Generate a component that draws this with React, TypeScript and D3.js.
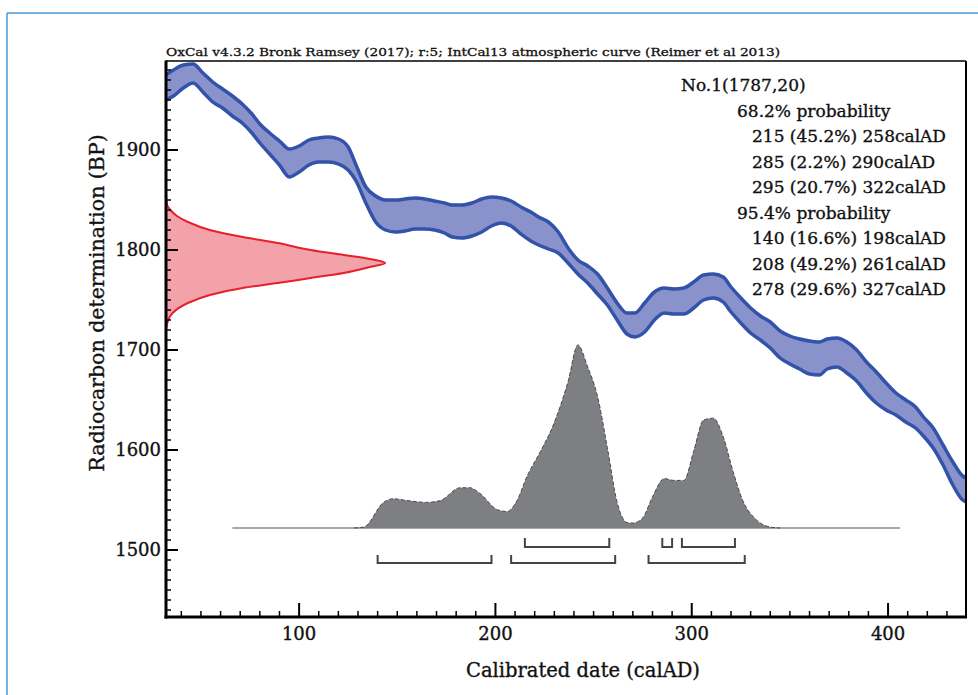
import React, { useEffect, useRef } from 'react';
import * as d3 from 'd3';

// IntCal13 band (upper / lower edge of the 1-sigma envelope)
const curveYears = [32, 36, 41, 46, 51, 56, 61, 66, 71, 76, 80, 85, 90, 95, 100, 105, 110, 115, 120, 125, 129, 134, 139, 144, 149, 154, 159, 164, 169, 174, 178, 183, 188, 193, 198, 203, 208, 213, 218, 222, 227, 232, 237, 242, 247, 252, 257, 262, 267, 271, 276, 281, 286, 291, 296, 301, 306, 311, 316, 320, 325, 330, 335, 340, 345, 350, 355, 360, 365, 369, 374, 379, 384, 389, 394, 399, 404, 409, 414, 418, 423, 428, 433, 438, 440];
const curveUpperBP = [1975, 1980, 1985, 1986, 1977, 1968, 1961, 1954, 1946, 1936, 1926, 1917, 1909, 1901, 1904, 1910, 1912, 1913, 1911, 1903, 1885, 1863, 1854, 1850, 1850, 1851, 1852, 1851, 1849, 1847, 1845, 1845, 1847, 1851, 1853, 1852, 1849, 1843, 1838, 1833, 1828, 1818, 1802, 1790, 1784, 1776, 1762, 1747, 1737, 1737, 1747, 1758, 1762, 1761, 1762, 1768, 1775, 1776, 1773, 1763, 1752, 1742, 1734, 1728, 1719, 1714, 1711, 1709, 1708, 1711, 1712, 1708, 1700, 1688, 1678, 1667, 1657, 1650, 1643, 1633, 1622, 1605, 1588, 1574, 1572];
const curveLowerBP = [1950, 1954, 1962, 1967, 1958, 1948, 1942, 1934, 1927, 1917, 1907, 1896, 1885, 1873, 1878, 1885, 1888, 1888, 1886, 1880, 1869, 1847, 1828, 1820, 1818, 1819, 1821, 1821, 1820, 1817, 1813, 1812, 1814, 1818, 1824, 1827, 1824, 1816, 1809, 1805, 1801, 1797, 1787, 1776, 1767, 1756, 1745, 1730, 1716, 1713, 1718, 1730, 1737, 1736, 1736, 1742, 1750, 1752, 1748, 1738, 1727, 1717, 1710, 1702, 1692, 1686, 1681, 1676, 1675, 1681, 1683, 1677, 1669, 1657, 1647, 1640, 1635, 1628, 1622, 1614, 1602, 1585, 1565, 1550, 1548];

// measured radiocarbon date 1787 +/- 20 (red, on the y axis)
const measBP = [1855, 1845, 1840, 1834, 1828, 1820, 1813, 1807, 1800, 1795, 1791, 1787, 1783, 1777, 1772, 1767, 1762, 1755, 1747, 1737, 1730, 1720];
const measDens = [0, 0.005, 0.02, 0.05, 0.1, 0.2, 0.35, 0.51, 0.66, 0.81, 0.93, 1, 0.93, 0.81, 0.66, 0.51, 0.35, 0.2, 0.1, 0.03, 0.01, 0];

// calibrated distribution (grey)
const calYears = [128, 133, 143, 148, 155, 165, 172, 182, 187, 192, 201, 206, 211, 216, 223, 229, 237, 242, 247, 252, 257, 262, 267, 270, 275, 280, 286, 291, 296, 301, 306, 311, 316, 321, 326, 333, 340, 345];
const calProb = [0, 0.005, 0.14, 0.16, 0.15, 0.14, 0.15, 0.22, 0.22, 0.19, 0.1, 0.09, 0.15, 0.28, 0.42, 0.55, 0.8, 1, 0.88, 0.72, 0.44, 0.14, 0.03, 0.027, 0.055, 0.17, 0.27, 0.26, 0.26, 0.42, 0.59, 0.6, 0.5, 0.31, 0.15, 0.044, 0.005, 0];
const calSpan = [66, 406];

const ranges68 = [[215, 258], [285, 290], [295, 322]];
const ranges95 = [[140, 198], [208, 261], [278, 327]];

const xTicks = [100, 200, 300, 400];
const yTicks = [1500, 1600, 1700, 1800, 1900];

const titleText = 'OxCal v4.3.2 Bronk Ramsey (2017); r:5; IntCal13 atmospheric curve (Reimer et al 2013)';
const infoHead = 'No.1(1787,20)';
const infoLines = [
  { text: '68.2% probability', level: 1 },
  { text: '215 (45.2%) 258calAD', level: 2 },
  { text: '285 (2.2%) 290calAD', level: 2 },
  { text: '295 (20.7%) 322calAD', level: 2 },
  { text: '95.4% probability', level: 1 },
  { text: '140 (16.6%) 198calAD', level: 2 },
  { text: '208 (49.2%) 261calAD', level: 2 },
  { text: '278 (29.6%) 327calAD', level: 2 },
];

const W = 978;
const H = 695;
const FONT = '"DejaVu Serif", serif';

const App = () => {
  const svgRef = useRef<SVGSVGElement>(null);

  useEffect(() => {
    const svg = d3.select(svgRef.current);
    svg.selectAll('*').remove();

    const left = 166, right = 966, top = 61, bottom = 617;

    const x = d3.scaleLinear().domain([32.2, 439.7]).range([left, right]);
    const y = d3.scaleLinear().domain([1433, 1989]).range([bottom, top]);
    const dens = d3.scaleLinear().domain([0, 1]).range([left, left + (right - left) * 0.274]);
    const prob = d3.scaleLinear().domain([0, 1]).range([y(1522), y(1705)]);

    // heavier serif look, like the original print
    const label = (sel: any, size: number) =>
      sel.attr('font-family', FONT).attr('font-size', size)
        .attr('fill', '#111').attr('stroke', '#111').attr('stroke-width', 0.35);

    // outer frame
    svg.append('line').attr('x1', 7).attr('x2', W).attr('y1', 13).attr('y2', 13)
      .attr('stroke', '#4a98d8').attr('stroke-width', 1.5);
    svg.append('line').attr('x1', 7).attr('x2', 7).attr('y1', 13).attr('y2', H)
      .attr('stroke', '#4a98d8').attr('stroke-width', 1.5);

    svg.append('defs').append('clipPath').attr('id', 'plotclip')
      .append('rect').attr('x', left).attr('y', top).attr('width', right - left).attr('height', bottom - top);

    const g = svg.append('g').attr('clip-path', 'url(#plotclip)');

    // calibration band
    const idx = d3.range(curveYears.length);
    const band = d3.area<number>()
      .x(i => x(curveYears[i]))
      .y0(i => y(curveLowerBP[i]))
      .y1(i => y(curveUpperBP[i]))
      .curve(d3.curveMonotoneX);
    g.append('path').attr('d', band(idx)).attr('fill', '#8a92cc');
    [curveUpperBP, curveLowerBP].forEach(edge => {
      const line = d3.line<number>().x(i => x(curveYears[i])).y(i => y(edge[i])).curve(d3.curveMonotoneX);
      g.append('path').attr('d', line(idx)).attr('fill', 'none')
        .attr('stroke', '#3352aa').attr('stroke-width', 3.5).attr('stroke-linejoin', 'round');
    });

    // measured date distribution
    const midx = d3.range(measBP.length);
    const meas = d3.area<number>()
      .y(i => y(measBP[i]))
      .x0(left)
      .x1(i => dens(measDens[i]))
      .curve(d3.curveMonotoneY);
    g.append('path').attr('d', meas(midx)).attr('fill', '#f3a2aa');
    g.append('path')
      .attr('d', d3.line<number>().y(i => y(measBP[i])).x(i => dens(measDens[i])).curve(d3.curveMonotoneY)(midx))
      .attr('fill', 'none').attr('stroke', '#e6202c').attr('stroke-width', 2);

    // calibrated distribution
    g.append('line')
      .attr('x1', x(calSpan[0])).attr('x2', x(calSpan[1]))
      .attr('y1', prob(0)).attr('y2', prob(0))
      .attr('stroke', '#8a8a8a').attr('stroke-width', 1.5);
    const cidx = d3.range(calYears.length);
    const cal = d3.area<number>()
      .x(i => x(calYears[i]))
      .y0(prob(0))
      .y1(i => prob(calProb[i]))
      .curve(d3.curveMonotoneX);
    g.append('path').attr('d', cal(cidx)).attr('fill', '#7e7f82');
    g.append('path')
      .attr('d', d3.line<number>().x(i => x(calYears[i])).y(i => prob(calProb[i])).curve(d3.curveMonotoneX)(cidx))
      .attr('fill', 'none').attr('stroke', '#4a4a4a').attr('stroke-width', 1).attr('stroke-dasharray', '4 2');

    // range brackets
    const bracket = (rs: number[][], tipBP: number, lineBP: number) => {
      rs.forEach(([a, b]) => {
        g.append('path')
          .attr('d', `M${x(a)},${y(tipBP)}V${y(lineBP)}H${x(b)}V${y(tipBP)}`)
          .attr('fill', 'none').attr('stroke', '#444').attr('stroke-width', 2);
      });
    };
    bracket(ranges68, 1512, 1503);
    bracket(ranges95, 1495, 1487);

    // frame of the plot
    svg.append('line').attr('x1', left).attr('x2', right).attr('y1', top).attr('y2', top)
      .attr('stroke', '#000').attr('stroke-width', 1.5);
    svg.append('line').attr('x1', right).attr('x2', right).attr('y1', top).attr('y2', bottom)
      .attr('stroke', '#000').attr('stroke-width', 2);

    // ticks (inward)
    const ax = svg.append('g').attr('stroke', '#000');
    d3.range(40, 440, 10).forEach(v => {
      const major = v % 100 === 0;
      ax.append('line').attr('x1', x(v)).attr('x2', x(v))
        .attr('y1', bottom).attr('y2', bottom - (major ? 14 : 6))
        .attr('stroke-width', major ? 2 : 1.5);
    });
    d3.range(1440, 1990, 10).forEach(v => {
      const major = v % 100 === 0;
      ax.append('line').attr('y1', y(v)).attr('y2', y(v))
        .attr('x1', left).attr('x2', left + (major ? 12 : 5))
        .attr('stroke-width', major ? 2 : 1.5);
    });
    svg.append('line').attr('x1', left).attr('x2', left).attr('y1', top - 0.5).attr('y2', bottom + 1.5)
      .attr('stroke', '#000').attr('stroke-width', 3);
    svg.append('line').attr('x1', left - 1.5).attr('x2', right + 1).attr('y1', bottom).attr('y2', bottom)
      .attr('stroke', '#000').attr('stroke-width', 3);

    // tick labels
    xTicks.forEach(v => {
      label(svg.append('text'), 18).attr('x', x(v)).attr('y', 640)
        .attr('text-anchor', 'middle').text(v);
    });
    yTicks.forEach(v => {
      label(svg.append('text'), 18).attr('x', 161).attr('y', y(v)).attr('dy', '0.36em')
        .attr('text-anchor', 'end').text(v);
    });

    // axis titles
    label(svg.append('text'), 19.5).attr('x', 583).attr('y', 677)
      .attr('text-anchor', 'middle')
      .text('Calibrated date (calAD)');
    label(svg.append('text'), 20.5)
      .attr('transform', 'translate(104,303) rotate(-90)')
      .attr('text-anchor', 'middle')
      .text('Radiocarbon determination (BP)');

    // header
    label(svg.append('text'), 11.5).attr('x', left).attr('y', 56)
      .attr('stroke-width', 0.3)
      .attr('textLength', 614).attr('lengthAdjust', 'spacingAndGlyphs')
      .text(titleText);

    // info block
    label(svg.append('text'), 17).attr('x', 681).attr('y', 91).text(infoHead);
    infoLines.forEach((l, i) => {
      label(svg.append('text'), 17)
        .attr('x', l.level === 1 ? 737 : 752)
        .attr('y', 91 + (i + 1) * 25.5)
        .text(l.text);
    });
  }, []);

  return (
    <svg
      ref={svgRef}
      width={W}
      height={H}
      style={{ position: 'absolute', left: 0, top: 0, background: '#fff' }}
    />
  );
};

export default App;
